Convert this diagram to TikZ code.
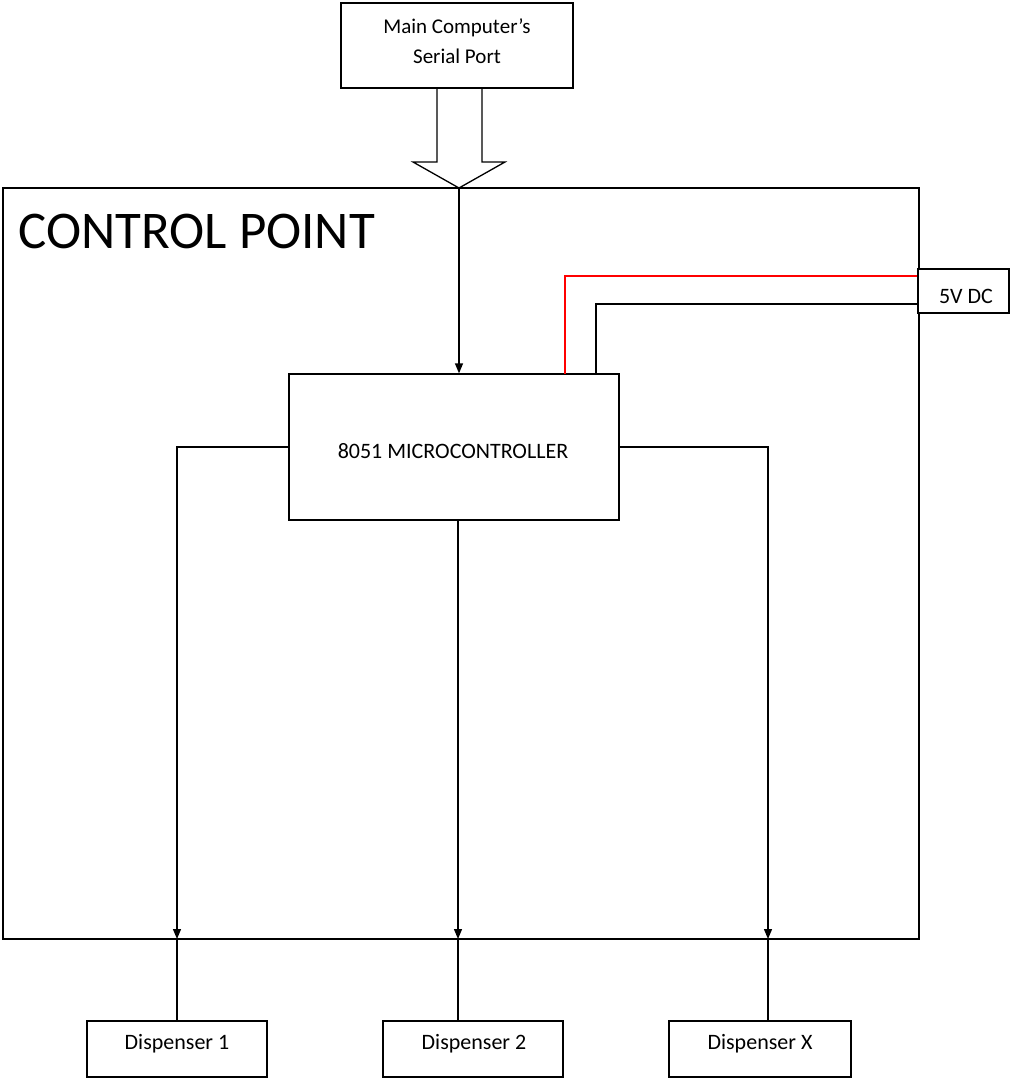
\documentclass[tikz,border=0pt]{standalone}
\usepackage{fontspec}
\setmainfont{Carlito}
\usetikzlibrary{arrows.meta,calc}

\tikzset{
  box/.style={draw, line width=1.3pt, fill=white, inner sep=0pt, align=center},
  lbl/.style={font=\fontsize{22}{22}\selectfont},
  wire/.style={line width=1.3pt},
  arr/.style={wire, -{Triangle[length=10pt,width=8pt]}}
}

\begin{document}
\begin{tikzpicture}[x=1pt,y=-1pt]
    \useasboundingbox (0,0) rectangle (1012,1081);

    % boxes
    \node[box, minimum width=916pt, minimum height=751pt] (ctrl) at (461,563.5) {};
    \node[anchor=west, font=\fontsize{53}{53}\selectfont] (title) at (15,231) {CONTROL POINT};
    \node[box, minimum width=232pt, minimum height=85pt] (port) at (457,45.5) {};
    \node[lbl, align=center, font=\fontsize{21}{30}\selectfont] (porttext) at (457,41) {Main Computer's\\Serial Port};
    \node[box, minimum width=330pt, minimum height=146pt] (mcu) at (454,447) {};
    \node[lbl] (mcutext) at (453,451) {8051 MICROCONTROLLER};
    \node[box, minimum width=91pt, minimum height=44pt] (pwr) at (963.5,291) {};
    \node[lbl] (pwrtext) at (966,296) {5V DC};
    \node[box, minimum width=180pt, minimum height=56pt] (disp1) at (177,1049) {};
    \node[lbl] (disp1text) at (177,1044) {Dispenser 1};
    \node[box, minimum width=180pt, minimum height=56pt] (disp2) at (473,1049) {};
    \node[lbl] (disp2text) at (474,1044) {Dispenser 2};
    \node[box, minimum width=182pt, minimum height=56pt] (dispx) at (760,1049) {};
    \node[lbl] (dispxtext) at (760,1044) {Dispenser X};

    \coordinate (tip) at (459,188);
    \coordinate (out1) at (177,939);
    \coordinate (out2) at (458,939);
    \coordinate (outx) at (768,939);
    \coordinate (vin) at (565,374);
    \coordinate (vgnd) at (596,374);

    % hollow arrow from the serial port
    \draw[wire, line join=miter] (port.south -| 437,0) -- (437,162) -- (413,162) -- (tip)
        -- (505,162) -- (482,162) -- (port.south -| 482,0);

    \draw[arr] (tip) -- (mcu.north -| tip);

    % power
    \draw[wire, red] (pwr.west |- 0,276) -| (vin);
    \draw[wire] (pwr.west |- 0,304) -| (vgnd);

    % outputs
    \draw[arr] (mcu.west) -| (out1);
    \draw[arr] (mcu.south -| out2) -- (out2);
    \draw[arr] (mcu.east) -| (outx);
    \draw[wire] (out1) -- (disp1.north -| out1);
    \draw[wire] (out2) -- (disp2.north -| out2);
    \draw[wire] (outx) -- (dispx.north -| outx);

\end{tikzpicture}
\end{document}
